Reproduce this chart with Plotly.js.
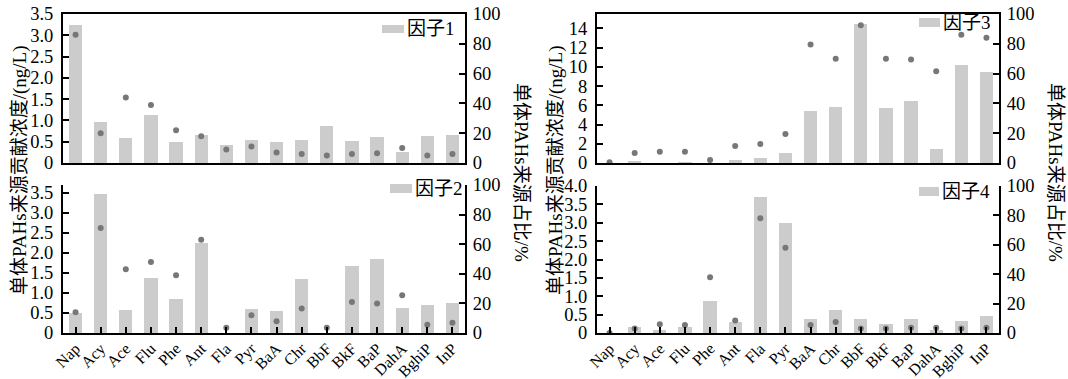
<!DOCTYPE html>
<html>
<head>
<meta charset="utf-8">
<script src="https://cdn.plot.ly/plotly-3.0.1.min.js"></script>
<style>html,body{margin:0;padding:0;background:#fff;}#chart{width:1068px;height:379px;}</style>
</head>
<body>
<div id="chart"></div>
<script>
const categories = ['Nap','Acy','Ace','Flu','Phe','Ant','Fla','Pyr','BaA','Chr','BbF','BkF','BaP','DahA','BghiP','InP'];

// Factor 1
const conc1 = [3.24, 0.96, 0.59, 1.12, 0.49, 0.65, 0.42, 0.54, 0.49, 0.54, 0.86, 0.51, 0.61, 0.25, 0.63, 0.66];
const pct1  = [86, 20, 44, 39, 22, 18, 9, 11, 7, 6, 5, 6, 6.5, 10, 5, 6];
// Factor 2
const conc2 = [0.50, 3.48, 0.57, 1.37, 0.86, 2.25, 0, 0.61, 0.56, 1.36, 0, 1.68, 1.84, 0.62, 0.69, 0.75];
const pct2  = [14, 71, 43, 48, 39, 63, 3.5, 12, 8, 16.5, 3.5, 21, 20, 25.5, 5.5, 7];
// Factor 3
const conc3 = [0, 0.25, 0, 0.12, 0, 0.33, 0.52, 1.0, 5.45, 5.85, 14.5, 5.7, 6.45, 1.5, 10.2, 9.5];
const pct3  = [0.5, 6.7, 7.6, 7.6, 2, 11.4, 12.8, 19.5, 79.5, 70, 92.5, 70, 69.5, 61.5, 86, 84];
// Factor 4
const conc4 = [0, 0.15, 0.07, 0.16, 0.86, 0.30, 3.70, 3.00, 0.38, 0.63, 0.38, 0.25, 0.38, 0.08, 0.32, 0.45];
const pct4  = [0, 3, 6, 5.5, 38, 8.5, 78, 58, 5.5, 7.5, 3, 3, 3.5, 3.5, 3, 3.5];

const legendNames = ['因子1', '因子2', '因子3', '因子4'];
const leftTickVals = [
  [0, 0.5, 1, 1.5, 2, 2.5, 3, 3.5],
  [0, 0.5, 1, 1.5, 2, 2.5, 3, 3.5],
  [0, 2, 4, 6, 8, 10, 12, 14],
  [0, 0.5, 1, 1.5, 2, 2.5, 3, 3.5, 4]
];
const leftTickText = [
  ['0', '0.5', '1.0', '1.5', '2.0', '2.5', '3.0', '3.5'],
  ['0', '0.5', '1.0', '1.5', '2.0', '2.5', '3.0', '3.5'],
  ['0', '2', '4', '6', '8', '10', '12', '14'],
  ['0', '0.5', '1.0', '1.5', '2.0', '2.5', '3.0', '3.5', '4.0']
];
const rightTickVals = [0, 20, 40, 60, 80, 100];
const leftTitle = '单体PAHs来源贡献浓度/(ng/L)';
const rightTitle = '单体PAHs来源占比/%';

const concs = [conc1, conc2, conc3, conc4];
const pcts = [pct1, pct2, pct3, pct4];
const leftRanges = [[0, 3.5], [0, 3.7], [0, 15.5], [0, 4.0]];

const W = 1068, H = 379;
const FONT = 'Liberation Serif, Times New Roman, Noto Sans CJK SC, serif';
// panel pixel boxes: [x0, x1, yTop, yBottom]
const boxes = [
  [63, 465, 14, 163],
  [63, 465, 185, 333],
  [597, 999, 14, 163],
  [597, 999, 186, 333]
];
const isBottom = [false, true, false, true];

const traces = [];
const layout = {
  width: W, height: H,
  margin: {l: 0, r: 0, t: 0, b: 0},
  paper_bgcolor: '#fff', plot_bgcolor: 'rgba(0,0,0,0)',
  showlegend: false,
  font: {family: FONT, size: 18, color: '#000'},
  shapes: [], annotations: [],
  bargap: 0
};

for (let p = 0; p < 4; p++) {
  const xi = p + 1, yl = 2 * p + 1, yr = 2 * p + 2;
  const xn = xi === 1 ? 'x' : 'x' + xi;
  const yln = yl === 1 ? 'y' : 'y' + yl;
  const yrn = 'y' + yr;
  const b = boxes[p];
  const xd = [b[0] / W, b[1] / W];
  const yd = [1 - b[3] / H, 1 - b[2] / H];

  traces.push({
    type: 'bar', x: categories, y: concs[p], xaxis: xn, yaxis: yln,
    marker: {color: '#cccccc'}, width: 0.53, name: legendNames[p], hoverinfo: 'x+y'
  });
  traces.push({
    type: 'scatter', mode: 'markers', x: categories, y: pcts[p], xaxis: xn, yaxis: yrn,
    marker: {color: '#777777', size: 6}, hoverinfo: 'x+y'
  });

  layout['xaxis' + (xi === 1 ? '' : xi)] = {
    domain: xd, anchor: yln, type: 'category', range: [-0.5, 15.5],
    showline: true, linecolor: '#000', linewidth: 2,
    mirror: !isBottom[p],
    ticks: isBottom[p] ? 'inside' : '', ticklen: 6, tickwidth: 2, tickcolor: '#000',
    showticklabels: isBottom[p], tickangle: -45,
    tickfont: {family: FONT, size: 16, color: '#000'},
    ticklabelstandoff: -2,
    showgrid: false, zeroline: false, fixedrange: true
  };
  layout['yaxis' + (yl === 1 ? '' : yl)] = {
    domain: yd, anchor: xn, range: leftRanges[p],
    tickmode: 'array', tickvals: leftTickVals[p], ticktext: leftTickText[p],
    showline: true, linecolor: '#000', linewidth: 2,
    ticks: 'inside', ticklen: 6, tickwidth: 2, tickcolor: '#000',
    tickfont: {family: FONT, size: 18.5, color: '#000'},
    ticklabelstandoff: 4,
    showgrid: false, zeroline: false, fixedrange: true
  };
  layout['yaxis' + yr] = {
    domain: yd, anchor: xn, overlaying: yln, side: 'right', range: [0, 100],
    tickmode: 'array', tickvals: rightTickVals,
    showline: true, linecolor: '#000', linewidth: 2,
    ticks: 'inside', ticklen: 6, tickwidth: 2, tickcolor: '#000',
    tickfont: {family: FONT, size: 18.5, color: '#000'},
    ticklabelstandoff: 2,
    showgrid: false, zeroline: false, fixedrange: true
  };
}

// legends (rect + text), pixel positions
const legendBoxes = [
  [382, 404, 25, 33, 29],
  [390, 412, 184, 193, 188],
  [919, 940, 18, 27, 23],
  [919, 939, 187, 196, 191]
];
legendBoxes.forEach((lb, i) => {
  layout.shapes.push({
    type: 'rect', xref: 'paper', yref: 'paper',
    x0: lb[0] / W, x1: lb[1] / W, y0: 1 - lb[3] / H, y1: 1 - lb[2] / H,
    fillcolor: '#cccccc', line: {width: 0}
  });
  layout.annotations.push({
    xref: 'paper', yref: 'paper', x: (lb[1] + 1) / W, y: 1 - lb[4] / H,
    xanchor: 'left', yanchor: 'middle', showarrow: false,
    text: legendNames[i], font: {family: FONT, size: 19, color: '#000'}
  });
});

// axis titles
[[20, 171, -90, leftTitle], [521, 172, 90, rightTitle], [556, 171, -90, leftTitle], [1055, 172, 90, rightTitle]].forEach(t => {
  layout.annotations.push({
    xref: 'paper', yref: 'paper', x: t[0] / W, y: 1 - t[1] / H,
    xanchor: 'center', yanchor: 'middle', showarrow: false, textangle: t[2],
    text: t[3], font: {family: FONT, size: 19, color: '#000'}
  });
});

Plotly.newPlot('chart', traces, layout, {displayModeBar: false, staticPlot: true});
</script>
</body>
</html>
